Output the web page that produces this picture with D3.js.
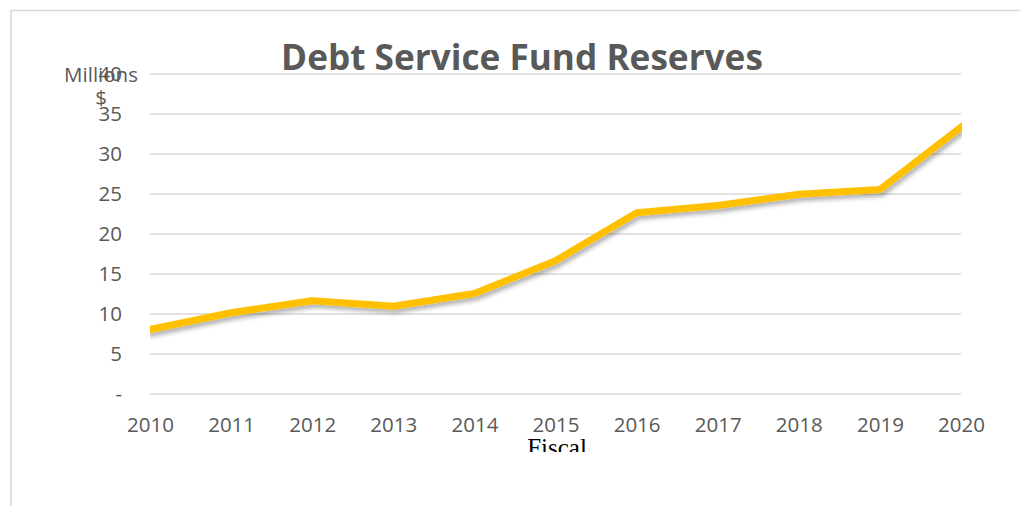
<!DOCTYPE html>
<html>
<head>
<meta charset="utf-8">
<script src="https://cdn.jsdelivr.net/npm/d3@7"></script>
<style>
  body { margin: 0; background: #fff; }
  svg { display: block; }
</style>
</head>
<body>
<div id="chart"></div>
<script>
// Data (millions of dollars)
var years = [2010, 2011, 2012, 2013, 2014, 2015, 2016, 2017, 2018, 2019, 2020];
var reserves = [8.0, 10.1, 11.6, 10.9, 12.5, 16.6, 22.6, 23.5, 24.9, 25.5, 33.3];
var yTicks = [0, 5, 10, 15, 20, 25, 30, 35, 40];

var width = 1020, height = 506;
var margin = {top: 73.5, right: 59, bottom: 112.5, left: 150};

var svg = d3.select("#chart").append("svg")
    .attr("width", width)
    .attr("height", height);

// chart area border (top and left edges visible)
svg.append("path")
    .attr("d", "M11,506 L11,10.5 L1020,10.5")
    .attr("fill", "none")
    .attr("stroke", "#d9d9d9")
    .attr("stroke-width", 1.5);

var x = d3.scaleLinear()
    .domain([years[0], years[years.length - 1]])
    .range([margin.left, width - margin.right]);

var y = d3.scaleLinear()
    .domain([0, 40])
    .range([height - margin.bottom, margin.top]);

var defs = svg.append("defs");
defs.append("clipPath").attr("id", "plot-clip")
    .append("rect")
    .attr("x", margin.left)
    .attr("y", 0)
    .attr("width", width - margin.right - margin.left + 1)
    .attr("height", height);

var shadow = defs.append("filter").attr("id", "shadow")
    .attr("x", "-10%").attr("y", "-20%")
    .attr("width", "120%").attr("height", "150%");
shadow.append("feDropShadow")
    .attr("dx", 2).attr("dy", 3.5)
    .attr("stdDeviation", 2.2)
    .attr("flood-color", "#000")
    .attr("flood-opacity", 0.3);

// horizontal gridlines
var yAxis = d3.axisLeft(y)
    .tickValues(yTicks)
    .tickSize(-(width - margin.left - margin.right))
    .tickPadding(28)
    .tickFormat(function (d) { return d === 0 ? "-" : d; });

var gy = svg.append("g")
    .attr("transform", "translate(" + margin.left + ",0)")
    .call(yAxis);
gy.select(".domain").remove();
gy.selectAll(".tick line")
    .attr("stroke", "#d9d9d9")
    .attr("stroke-width", 1.5);
gy.selectAll(".tick text")
    .attr("fill", "#595959")
    .attr("font-family", "'Open Sans', sans-serif")
    .attr("font-size", "20.5px");

// x axis labels
var xAxis = d3.axisBottom(x)
    .tickValues(years)
    .tickSize(0)
    .tickPadding(24)
    .tickFormat(d3.format("d"));

var gx = svg.append("g")
    .attr("transform", "translate(0," + (height - margin.bottom) + ")")
    .call(xAxis);
gx.select(".domain").remove();
gx.selectAll(".tick text")
    .attr("fill", "#595959")
    .attr("font-family", "'Open Sans', sans-serif")
    .attr("font-size", "20.5px");

// the line
var line = d3.line()
    .x(function (d, i) { return x(years[i]); })
    .y(function (d) { return y(d); });

svg.append("g")
    .attr("clip-path", "url(#plot-clip)")
    .append("path")
    .datum(reserves)
    .attr("d", line)
    .attr("fill", "none")
    .attr("stroke", "#ffc000")
    .attr("stroke-width", 7)
    .attr("stroke-linejoin", "round")
    .attr("stroke-linecap", "square")
    .attr("filter", "url(#shadow)");

// title
var title = svg.append("text")
    .attr("x", 522)
    .attr("y", 70)
    .attr("text-anchor", "middle")
    .attr("fill", "#595959")
    .attr("font-family", "'Open Sans', sans-serif")
    .attr("font-weight", "bold")
    .attr("font-size", "33px")
    .text("Debt Service Fund Reserves");
var tw = title.node().getComputedTextLength();
title.attr("font-size", (33 * 482 / tw) + "px");

// y axis title (wrapped, sits over the top tick label as in the original)
svg.append("text")
    .attr("x", 101)
    .attr("y", 82)
    .attr("text-anchor", "middle")
    .attr("fill", "#595959")
    .attr("font-family", "'Open Sans', sans-serif")
    .attr("font-size", "20.5px")
    .text("Millions");
svg.append("text")
    .attr("x", 101)
    .attr("y", 105)
    .attr("text-anchor", "middle")
    .attr("fill", "#595959")
    .attr("font-family", "'Open Sans', sans-serif")
    .attr("font-size", "20.5px")
    .text("$");

// x axis title, cut off at the bottom
defs.append("clipPath").attr("id", "fiscal-clip")
    .append("rect")
    .attr("x", 480).attr("y", 425)
    .attr("width", 160).attr("height", 27);
svg.append("text")
    .attr("x", 557)
    .attr("y", 456)
    .attr("text-anchor", "middle")
    .attr("fill", "#000")
    .attr("font-family", "'Liberation Serif', 'Times New Roman', serif")
    .attr("font-size", "25px")
    .attr("clip-path", "url(#fiscal-clip)")
    .text("Fiscal");
</script>
</body>
</html>
